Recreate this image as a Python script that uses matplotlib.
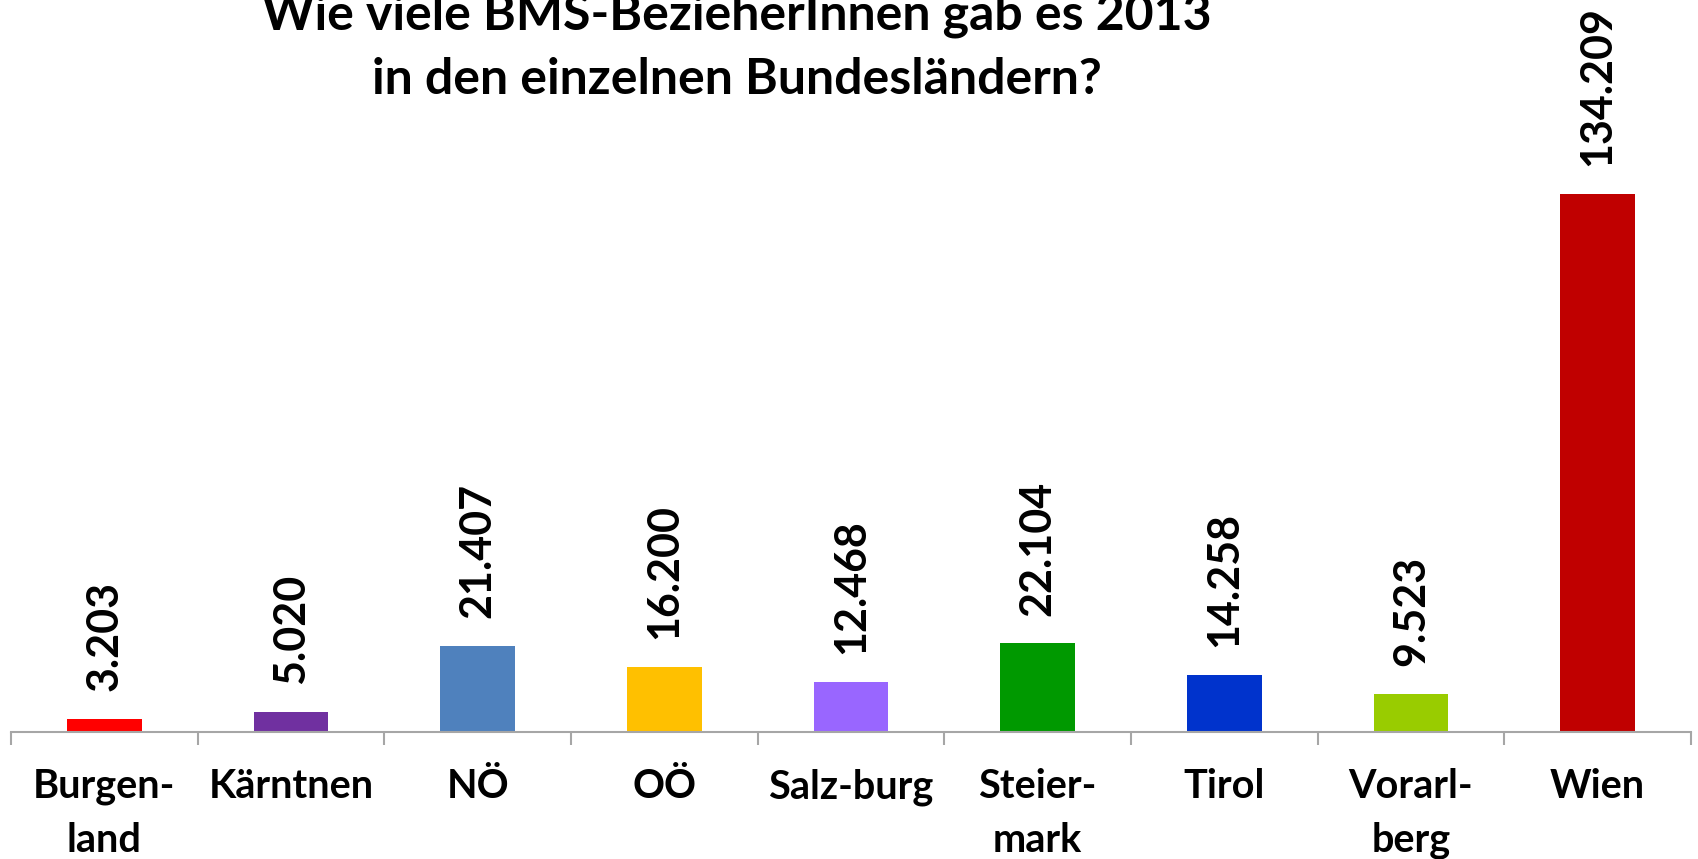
import matplotlib
matplotlib.use("Agg")
import matplotlib.pyplot as plt

categories = ["Burgen-\nland", "Kärntnen", "NÖ", "OÖ", "Salz-burg",
              "Steier-\nmark", "Tirol", "Vorarl-\nberg", "Wien"]
values = [3203, 5020, 21407, 16200, 12468, 22104, 14258, 9523, 134209]
value_labels = ["3.203", "5.020", "21.407", "16.200", "12.468",
                "22.104", "14.258", "9.523", "134.209"]
colors = ["#FF0000", "#7030A0", "#4F81BD", "#FFC000", "#9966FF",
          "#009900", "#0033CC", "#99CC00", "#C00000"]
title = "Wie viele BMS-BezieherInnen gab es 2013\nin den einzelnen Bundesländern?"

plt.rcParams['font.family'] = ['Lato', 'DejaVu Sans']

W, H = 1699, 859
fig = plt.figure(figsize=(W / 100, H / 100), dpi=100)
ax = fig.add_axes([11 / W, (H - 732) / H, 1680 / W, 732 / H])

x = list(range(len(values)))
ax.bar(x, values, width=0.40, color=colors, edgecolor='none', zorder=2)
ax.set_xlim(-0.5, len(values) - 0.5)
ax.set_ylim(0, 182600)

for xi, v, lab in zip(x, values, value_labels):
    ax.annotate(lab, (xi, v), xytext=(0, 20), textcoords='offset points',
                rotation=90, ha='center', va='bottom', fontsize=31,
                fontweight='bold', color='black')

ax.set_xticks([i - 0.5 for i in range(len(values) + 1)], minor=False)
ax.set_xticklabels([])
ax.set_xticks(x, minor=True)
ax.set_xticklabels(categories, minor=True, fontsize=28.5, fontweight='bold',
                   linespacing=1.55)
ax.tick_params(axis='x', which='major', length=9, width=1.5, color='#A6A6A6',
               direction='out')
ax.tick_params(axis='x', which='minor', length=0, pad=26)
ax.set_yticks([])
for s in ['top', 'right', 'left']:
    ax.spines[s].set_visible(False)
ax.spines['bottom'].set_color('#A6A6A6')
ax.spines['bottom'].set_linewidth(1.5)

fig.text(737 / W, 1 - 47 / H, title, ha='center', va='center', fontsize=36,
         fontweight='bold', linespacing=1.5)

fig.savefig("out.png", dpi=100)
